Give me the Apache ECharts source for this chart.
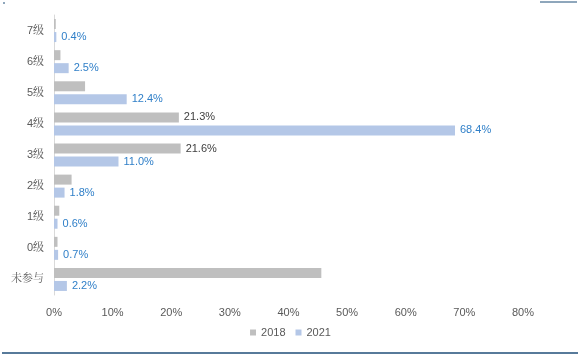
<!DOCTYPE html>
<html><head><meta charset="utf-8">
<script src="https://cdn.jsdelivr.net/npm/echarts@6/dist/echarts.min.js"></script>
<style>html,body{margin:0;padding:0;background:#fff}#c{width:581px;height:357px}</style>
</head><body><div id="c"></div>
<script>
var categories = ['7级','6级','5级','4级','3级','2级','1级','0级','未参与'];
var values2018 = [0.3, 1.1, 5.3, 21.3, 21.6, 3.0, 0.9, 0.6, 45.6];
var values2021 = [0.4, 2.5, 12.4, 68.4, 11.0, 1.8, 0.6, 0.7, 2.2];
var labeled2018 = ['4级','3级'];
var xTicks = [0,10,20,30,40,50,60,70,80];

var chart = echarts.init(document.getElementById('c'));
chart.setOption({
  animation:false,
  backgroundColor:'#fff',
  grid:{left:54, right:58, top:15, bottom:62, containLabel:false},
  legend:{bottom:14, left:'center', itemWidth:6, itemHeight:6, itemGap:10,
    icon:'rect', textStyle:{fontSize:11, color:'#595959', fontFamily:'Arial, Liberation Sans'},
    data:['2018','2021']},
  xAxis:{type:'value', min:0, max:80, interval:10,
    axisLabel:{formatter:function(v){return v+'%';}, fontSize:11, color:'#595959', margin:12, fontFamily:'Arial, Liberation Sans'},
    splitLine:{show:false}, axisLine:{show:false}, axisTick:{show:false}},
  yAxis:{type:'category', data:categories, inverse:true,
    axisLine:{show:true, lineStyle:{color:'#d9d9d9', width:1}},
    axisTick:{show:false},
    axisLabel:{fontSize:11, color:'#595959', margin:10, fontFamily:'Liberation Sans, Noto Serif CJK SC, Noto Sans CJK SC'}},
  series:[
    {name:'2018', type:'bar', data:values2018.map(function(v,i){
        return {value:v, label:{show: labeled2018.indexOf(categories[i])>=0}};
      }),
      barWidth:10, barGap:'30%', itemStyle:{color:'#bfbfbf'},
      label:{position:'right', distance:5, fontSize:11, color:'#404040', fontFamily:'Arial, Liberation Sans',
        formatter:function(p){return p.value.toFixed(1)+'%';}}},
    {name:'2021', type:'bar', data:values2021, barWidth:10, barGap:'30%',
      itemStyle:{color:'#b4c7e7'},
      label:{show:true, position:'right', distance:5, fontSize:11, color:'#2f7fc8', fontFamily:'Arial, Liberation Sans',
        formatter:function(p){return p.value.toFixed(1)+'%';}}}
  ],
  graphic:[
    {type:'line', shape:{x1:540,y1:2,x2:577,y2:2}, style:{stroke:'#1f4e79', lineWidth:1}},
    {type:'line', shape:{x1:2,y1:353,x2:578,y2:353}, style:{stroke:'#1f4e79', lineWidth:1.5}},
    {type:'line', shape:{x1:3,y1:3,x2:5,y2:3}, style:{stroke:'#1f4e79', lineWidth:1}}
  ]
});
</script></body></html>
